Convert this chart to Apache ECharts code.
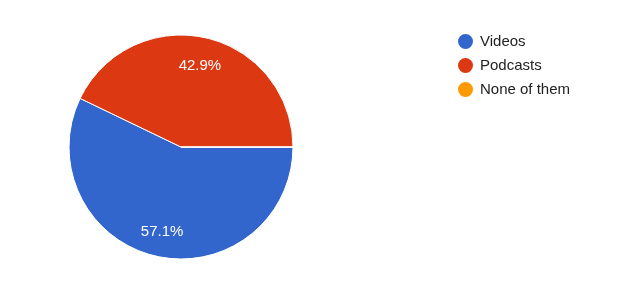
<!DOCTYPE html>
<html><head><meta charset="utf-8">
<script src="https://cdn.jsdelivr.net/npm/echarts@6/dist/echarts.min.js"></script>
<style>html,body{margin:0;padding:0;background:#fff}#c{width:633px;height:303px}</style>
</head><body><div id="c"></div>
<script>
var categories = ['Videos', 'Podcasts', 'None of them'];
var values = [4, 3, 0];
var colors = ['#3366cc', '#dc3912', '#ff9900'];

var data = categories.map(function (n, i) { return { name: n, value: values[i] }; });
var total = values.reduce(function (a, b) { return a + b; }, 0);
var chart = echarts.init(document.getElementById('c'), null, { renderer: 'canvas' });
chart.setOption({
  animation: false,
  color: colors,
  legend: {
    orient: 'vertical', left: 453, top: 29,
    icon: 'circle', itemWidth: 15, itemHeight: 15, itemGap: 9,
    itemStyle: { borderWidth: 0 },
    textStyle: { fontFamily: 'Liberation Sans, Arial', fontSize: 15, color: '#222', padding: [0, 0, 0, 2] },
    data: categories
  },
  series: [{
    type: 'pie', center: [181, 147], radius: 112, startAngle: 0, clockwise: true,
    avoidLabelOverlap: false, label: { show: false }, labelLine: { show: false },
    itemStyle: { borderColor: '#fff', borderWidth: 1 },
    data: data
  }, {
    type: 'pie', center: [181, 147], radius: 164, startAngle: 0, clockwise: true, silent: true,
    avoidLabelOverlap: false, labelLine: { show: false },
    itemStyle: { color: 'rgba(0,0,0,0)', borderWidth: 0 },
    label: {
      show: true, position: 'inside', color: '#fff', fontSize: 15, fontFamily: 'Liberation Sans, Arial',
      offset: [0, 1.5],
      formatter: function (p) { return p.value ? (p.value / total * 100).toFixed(1) + '%' : ''; }
    },
    data: data
  }]
});
</script></body></html>
